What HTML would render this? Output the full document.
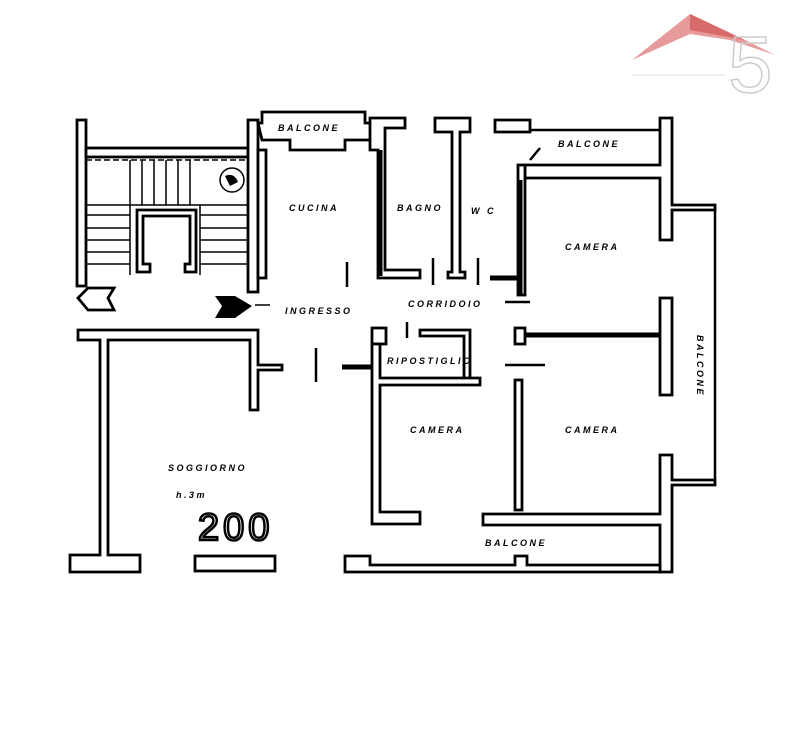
<!DOCTYPE html>
<html><head><meta charset="utf-8"><style>
html,body{margin:0;padding:0;background:#fff;width:792px;height:744px;overflow:hidden}
svg{display:block}
.w{fill:#fff;stroke:#000;stroke-width:2.8}
.l{stroke:#000;stroke-width:2.5;fill:none}
.t{stroke:#000;stroke-width:1.5;fill:none}
.s{stroke:#000;stroke-width:5;fill:none}
text{font-family:"Liberation Sans",sans-serif;font-weight:bold;font-size:9px;letter-spacing:2.5px;font-style:italic}
</style></head><body>
<svg width="792" height="744" viewBox="0 0 792 744">
<!-- logo -->
<polygon points="632,60 690,14 745,40 775,55 730,40 690,34" fill="#e79a9a"/>
<polygon points="690,14 745,40 690,30" fill="#d86a6a"/>
<text x="728" y="92" style="font-size:80px;font-weight:normal;font-style:normal;letter-spacing:0;fill:none;stroke:#ccc;stroke-width:1.5" font-family="Liberation Serif">5</text>
<line x1="632" y1="75" x2="725" y2="75" stroke="#ddd" stroke-width="1"/>

<!-- stairs block -->
<rect class="w" x="77" y="120" width="9" height="166"/>
<rect class="w" x="86" y="148" width="162" height="9"/>
<rect class="w" x="248" y="120" width="10" height="172"/>
<line class="t" x1="86" y1="160" x2="248" y2="160" stroke-dasharray="6,3"/>
<g class="t">
<line x1="130" y1="160" x2="130" y2="205"/><line x1="142" y1="160" x2="142" y2="205"/><line x1="154" y1="160" x2="154" y2="205"/><line x1="166" y1="160" x2="166" y2="205"/><line x1="178" y1="160" x2="178" y2="205"/><line x1="190" y1="160" x2="190" y2="205"/>
<line x1="86" y1="205" x2="248" y2="205"/>
<line x1="86" y1="215" x2="130" y2="215"/><line x1="86" y1="228" x2="130" y2="228"/><line x1="86" y1="240" x2="130" y2="240"/><line x1="86" y1="252" x2="130" y2="252"/><line x1="86" y1="264" x2="130" y2="264"/>
<line x1="200" y1="215" x2="248" y2="215"/><line x1="200" y1="228" x2="248" y2="228"/><line x1="200" y1="240" x2="248" y2="240"/><line x1="200" y1="252" x2="248" y2="252"/><line x1="200" y1="264" x2="248" y2="264"/>
<line x1="130" y1="205" x2="130" y2="275"/><line x1="200" y1="205" x2="200" y2="275"/>
</g>
<path class="w" d="M137,210 H196 V272 H185 V264 H190 V216 H143 V264 H150 V272 H137 Z"/>
<circle cx="232" cy="180" r="12" class="t"/><path d="M225,176 Q234,172 238,182 L230,186 Z"/>
<!-- arrows -->
<path d="M78,298 L88,288 H114 L108,298 L114,310 H88 Z" class="w"/>
<path d="M215,296 H235 L252,306 L235,318 H215 L222,306 Z"/>
<line class="t" x1="255" y1="305" x2="270" y2="305"/>

<!-- balcone cucina -->
<path class="w" d="M258,123 H262 V112 H365 V123 H375 V140 H345 V150 H290 V140 H262 Z"/>
<rect class="w" x="258" y="150" width="8" height="128"/>
<rect class="s" x="260" y="275" width="75" height="0"/>
<line class="l" x1="347" y1="262" x2="347" y2="287"/>
<!-- bagno -->
<path class="w" d="M370,118 H405 V128 H385 V270 H420 V278 H378 V150 H370 Z"/>
<line class="s" x1="380" y1="150" x2="380" y2="276"/>
<path class="w" d="M435,118 H470 V132 H460 V272 H465 V278 H448 V272 H452 V132 H435 Z"/>
<line class="l" x1="433" y1="258" x2="433" y2="285"/>
<line class="l" x1="478" y1="258" x2="478" y2="285"/>
<!-- cam top right -->
<path class="w" d="M495,120 H530 V132 H495 Z"/>
<path class="w" d="M525,165 H660 V118 H672 V205 H715 V210 H672 V240 H660 V178 H525 Z"/>
<line class="l" x1="530" y1="130" x2="660" y2="130"/>
<rect class="w" x="518" y="165" width="7" height="130"/>
<line class="s" x1="520" y1="180" x2="520" y2="295"/>
<line class="s" x1="490" y1="278" x2="520" y2="278"/>
<line class="l" x1="530" y1="160" x2="540" y2="148"/>
<line class="l" x1="715" y1="205" x2="715" y2="480"/>
<line class="l" x1="505" y1="302" x2="530" y2="302"/>
<line class="l" x1="505" y1="365" x2="545" y2="365"/>
<!-- mid right -->
<line class="s" x1="520" y1="335" x2="665" y2="335"/>
<rect class="w" x="515" y="328" width="10" height="16"/>
<rect class="w" x="660" y="298" width="12" height="97"/>
<rect class="w" x="515" y="380" width="7" height="130"/>
<path class="w" d="M660,455 H672 V480 H715 V485 H672 V572 H660 V525 H483 V514 H660 Z"/>
<!-- ripostiglio -->
<rect class="w" x="372" y="328" width="14" height="16"/>
<path class="w" d="M372,344 H380 V378 H470 V330 H420 V336 H464 V378 H480 V385 H380 V512 H420 V524 H372 Z"/>
<line class="l" x1="407" y1="322" x2="407" y2="338"/>
<line class="s" x1="342" y1="367" x2="372" y2="367"/>
<line class="l" x1="316" y1="348" x2="316" y2="382"/>
<!-- lower left -->
<path class="w" d="M78,330 H258 V365 H282 V370 H258 V410 H250 V340 H108 V555 H140 V572 H70 V555 H100 V340 H78 Z"/>
<rect class="w" x="195" y="556" width="80" height="15"/>
<path class="w" d="M345,556 H370 V565 H515 V556 H527 V565 H660 V572 H345 Z"/>
<!-- labels -->
<text x="278" y="131">BALCONE</text>
<text x="289" y="211">CUCINA</text>
<text x="397" y="211">BAGNO</text>
<text x="471" y="214">W C</text>
<text x="558" y="147">BALCONE</text>
<text x="565" y="250">CAMERA</text>
<text x="285" y="314">INGRESSO</text>
<text x="408" y="307">CORRIDOIO</text>
<text x="387" y="364">RIPOSTIGLIO</text>
<text x="410" y="433">CAMERA</text>
<text x="565" y="433">CAMERA</text>
<text x="168" y="471">SOGGIORNO</text>
<text x="176" y="498">h.3m</text>
<text x="485" y="546">BALCONE</text>
<text x="0" y="0" transform="translate(697,335) rotate(90)">BALCONE</text>
<text x="198" y="540" style="font-size:38px;font-weight:normal;font-style:normal;letter-spacing:4px;fill:#fff;stroke:#000;stroke-width:2.5">200</text>
</svg>
</body></html>
